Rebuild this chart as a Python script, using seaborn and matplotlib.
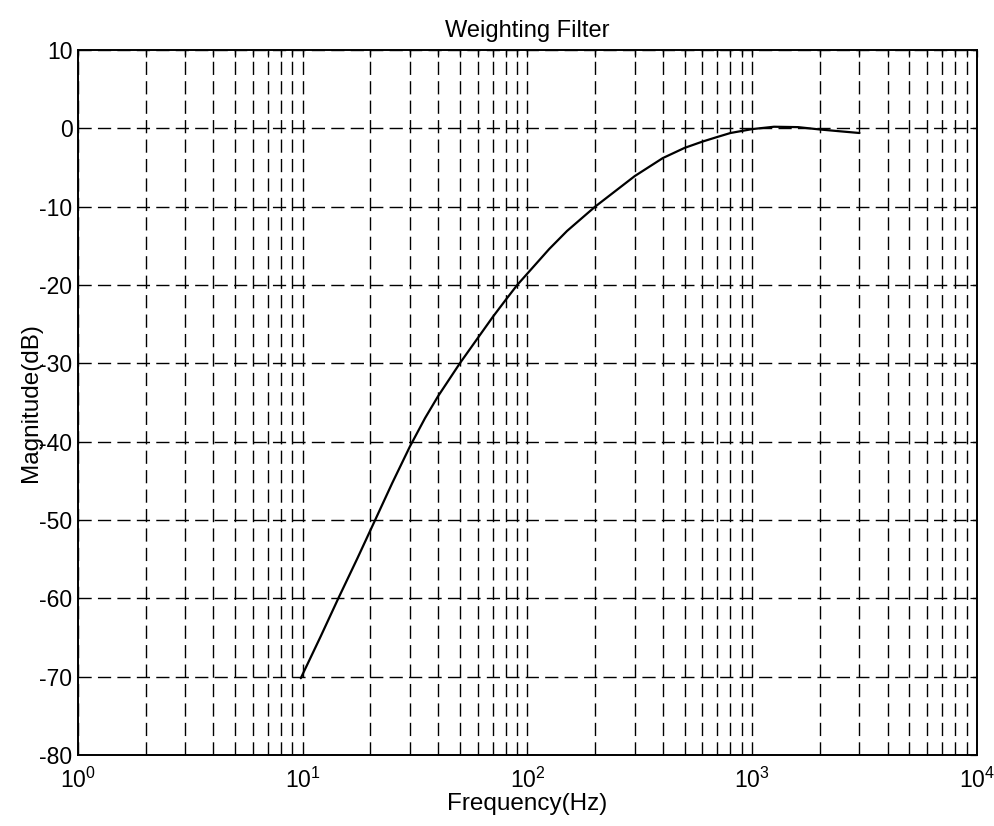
import numpy as np
import pandas as pd
import matplotlib
matplotlib.use("Agg")
import matplotlib.pyplot as plt
import seaborn as sns
from matplotlib.ticker import LogLocator, NullFormatter

# values
freq_hz = [9.8, 12, 14.4, 17.5, 21, 25, 30, 35, 40, 50, 60, 70, 80, 90, 125, 150,
           200, 300, 400, 500, 600, 700, 800, 1000, 1250, 1600, 2000, 2500, 3000]
mag_db = [-70.2, -64.9, -60.0, -54.9, -50.0, -45.3, -40.6, -37.0, -34.2, -30.0,
          -26.8, -24.1, -21.9, -20.0, -15.4, -13.1,
          -10.0, -6.1, -3.8, -2.5, -1.7, -1.1, -0.6, -0.1, 0.2, 0.15, -0.15, -0.4, -0.6]

title = "Weighting Filter"
xlabel = "Frequency(Hz)"
ylabel = "Magnitude(dB)"

df = pd.DataFrame({"f": freq_hz, "db": mag_db})

sns.set_theme(style="white")
plt.rcParams['font.family'] = ['Liberation Sans', 'DejaVu Sans']
plt.rcParams['mathtext.fontset'] = 'custom'
plt.rcParams['mathtext.rm'] = 'Liberation Sans'
plt.rcParams['axes.unicode_minus'] = False
plt.rcParams['text.color'] = 'black'
plt.rcParams['axes.labelcolor'] = 'black'

fig = plt.figure(figsize=(9.95, 8.26), dpi=100)
ax = fig.add_axes([0.0784, 0.086, 0.9035, 0.8535])

sns.lineplot(data=df, x="f", y="db", ax=ax, color="black", linewidth=1.6)

ax.set_xscale("log")
ax.set_xlim(1, 1e4)
ax.set_ylim(-80, 10)
ax.set_yticks(np.arange(-80, 11, 10))
ax.xaxis.set_major_locator(LogLocator(base=10))
ax.xaxis.set_minor_locator(LogLocator(base=10, subs=np.arange(2, 10)))
ax.xaxis.set_minor_formatter(NullFormatter())

grid_kw = dict(color="black", linestyle=(0, (9.5, 4.5)), linewidth=1.0)
ax.grid(True, which="major", axis="both", **grid_kw)
ax.grid(True, which="minor", axis="x", **grid_kw)

for s in ax.spines.values():
    s.set_color("black")
    s.set_linewidth(1.4)
ax.tick_params(which="both", direction="in", top=True, right=True,
               length=5, width=0.9, colors="black", labelcolor="black",
               labelsize=16.5)
ax.tick_params(axis="x", pad=9)
ax.tick_params(axis="y", pad=4)

ax.set_title(title, fontsize=17, pad=9, color="black")
ax.set_xlabel(xlabel, fontsize=17.5, labelpad=0)
ax.set_ylabel(ylabel, fontsize=17.5, labelpad=-2)

fig.savefig("out.png", dpi=100)
